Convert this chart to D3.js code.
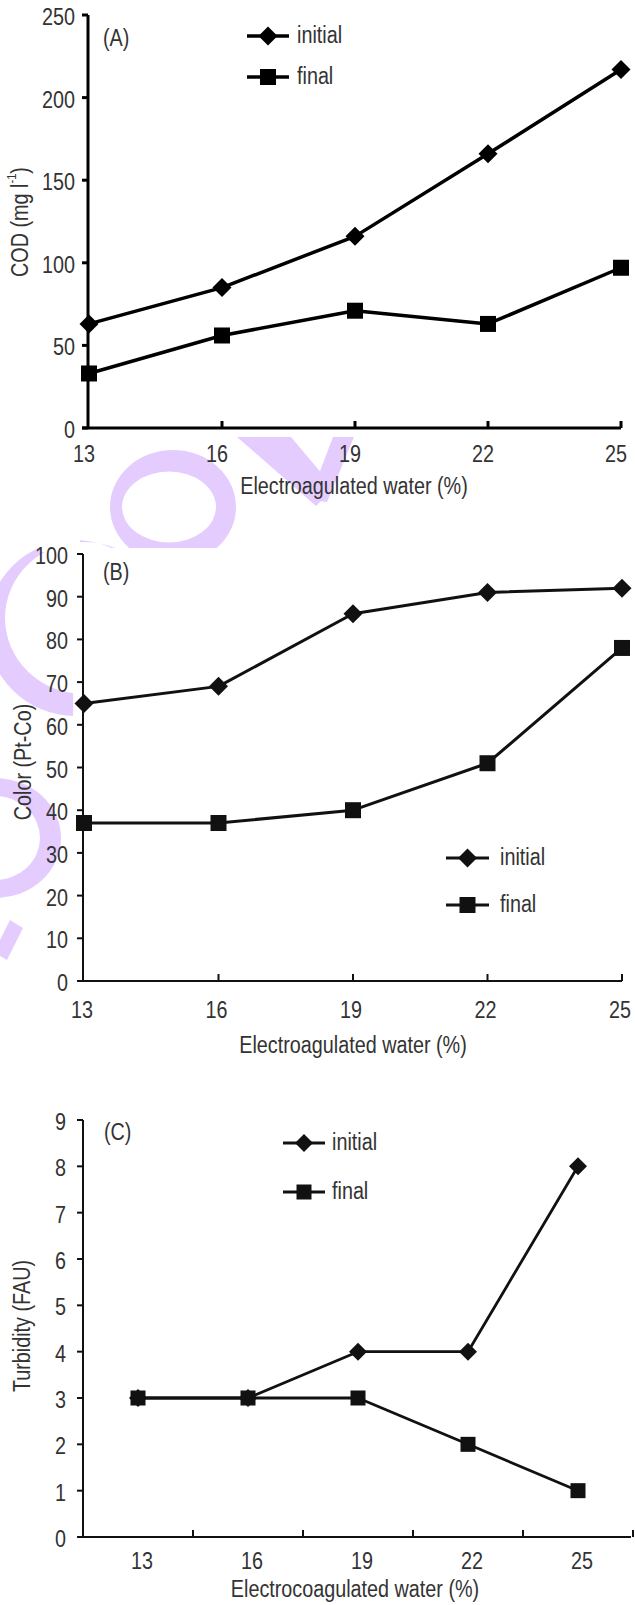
<!DOCTYPE html>
<html>
<head>
<meta charset="utf-8">
<script src="https://cdn.jsdelivr.net/npm/d3@7"></script>
<style>
  html, body { margin: 0; padding: 0; background: #fff; }
  svg { display: block; }
  text { font-family: "Liberation Sans", Arial, sans-serif; fill: #333; }
</style>
</head>
<body>
<svg id="chart" width="635" height="1605"></svg>
<script>
// Electrocoagulated water dosage (%) on the x axis of every panel
const waterLevels = [13, 16, 19, 22, 25];

// (A) COD, mg l-1
const codInitial = [63, 85, 116, 166, 217];
const codFinal   = [33, 56, 71, 63, 97];
const codTicks   = [0, 50, 100, 150, 200, 250];

// (B) Color, Pt-Co
const colorInitial = [65, 69, 86, 91, 92];
const colorFinal   = [37, 37, 40, 51, 78];
const colorTicks   = [0, 10, 20, 30, 40, 50, 60, 70, 80, 90, 100];

// (C) Turbidity, FAU
const turbInitial = [3, 3, 4, 4, 8];
const turbFinal   = [3, 3, 3, 2, 1];
const turbTicks   = [0, 1, 2, 3, 4, 5, 6, 7, 8, 9];

const seriesNames = ["initial", "final"];

const svg = d3.select("#chart");
const FS = 23;     // font size
const SX = 0.86;   // horizontal squeeze for a condensed look

// condensed text helper
function label(g, x, y, str, anchor, rotate) {
  const t = g.append("text")
    .attr("transform", `translate(${x},${y})${rotate ? " rotate(-90)" : ""} scale(${SX},1)`)
    .attr("text-anchor", anchor || "start")
    .attr("dominant-baseline", "middle")
    .attr("font-size", FS);
  if (str !== null) t.text(str);
  return t;
}

// ---- light violet background stamp, visible only in the margins ----
const defs = svg.append("defs");
const clip = defs.append("clipPath").attr("id", "stampClip");
clip.append("rect").attr("x", 0).attr("y", 437).attr("width", 635).attr("height", 111);
clip.append("rect").attr("x", 0).attr("y", 548).attr("width", 73).attr("height", 440);

const stamp = svg.append("g").attr("clip-path", "url(#stampClip)").attr("fill", "#e4ccff");
function ellipsePath(cx, cy, rx, ry) {
  return `M${cx - rx},${cy}a${rx},${ry} 0 1,0 ${2 * rx},0a${rx},${ry} 0 1,0 ${-2 * rx},0Z`;
}
// ring letter
stamp.append("path").attr("fill-rule", "evenodd")
  .attr("d", ellipsePath(173, 507, 63, 57) + ellipsePath(169, 507, 47, 35.5));
// v-shaped letter
stamp.append("path").attr("d", "M237,437L291,437L334,488L316,506Z");
stamp.append("path").attr("d", "M333,437L354,437L327,502L309,500Z");
// large crescent on the left
stamp.append("path").attr("fill-rule", "evenodd")
  .attr("d", ellipsePath(75, 628, 88, 88) + ellipsePath(84, 618, 79, 76));
stamp.append("rect").attr("x", 40).attr("y", 530).attr("width", 40).attr("height", 22).attr("fill", "#fff");
// lower crescent
stamp.append("path").attr("fill-rule", "evenodd")
  .attr("d", ellipsePath(-5, 838, 66, 60) + ellipsePath(-5, 838, 45, 42));
// diagonal stroke
stamp.append("path").attr("d", "M10,920L23,928L7,960L-6,952Z");

// ---- marker symbols ----
function diamond(g, x, y, r, color) {
  g.append("path").attr("d", `M${x},${y - r}L${x + r},${y}L${x},${y + r}L${x - r},${y}Z`).attr("fill", color);
}
function square(g, x, y, s, color) {
  g.append("rect").attr("x", x - s / 2).attr("y", y - s / 2).attr("width", s).attr("height", s).attr("fill", color);
}

function drawPanel(cfg) {
  const g = svg.append("g");
  const x = cfg.x;
  const y = cfg.y;
  const ink = cfg.ink;
  const y0 = y(0);
  const yTop = y(cfg.yTicks[cfg.yTicks.length - 1]);

  // y axis with outward ticks
  g.append("line").attr("x1", cfg.axisX).attr("x2", cfg.axisX).attr("y1", yTop).attr("y2", y0)
    .attr("stroke", ink).attr("stroke-width", cfg.axisW);
  cfg.yTicks.forEach(v => {
    g.append("line").attr("x1", cfg.axisX - 6).attr("x2", cfg.axisX).attr("y1", y(v)).attr("y2", y(v))
      .attr("stroke", ink).attr("stroke-width", cfg.axisW);
    label(g, cfg.axisX - cfg.labelGap, y(v) + 4, v, "end");
  });

  // x axis with inward ticks
  g.append("line").attr("x1", cfg.axisX - 6).attr("x2", cfg.xEnd).attr("y1", y0).attr("y2", y0)
    .attr("stroke", ink).attr("stroke-width", cfg.axisW);
  cfg.xTickPos.forEach(px => {
    g.append("line").attr("x1", px).attr("x2", px).attr("y1", y0 - 7).attr("y2", y0)
      .attr("stroke", ink).attr("stroke-width", cfg.axisW);
  });
  waterLevels.forEach(v => label(g, cfg.xLabel(v), y0 + cfg.xLabelDy, v, "middle"));

  // axis titles
  label(g, cfg.titleX, cfg.xTitleY, cfg.xTitle, "middle");
  cfg.yTitle(label(g, cfg.yTitlePos[0], cfg.yTitlePos[1], null, "middle", true));

  // panel letter
  label(g, cfg.letterPos[0], cfg.letterPos[1], cfg.letter);

  // series lines and markers
  const line = d3.line().x(d => d[0]).y(d => d[1]);
  [cfg.initial, cfg.final].forEach((vals, si) => {
    const pts = vals.map((v, i) => [x(waterLevels[i]), y(v)]);
    g.append("path").attr("d", line(pts)).attr("fill", "none")
      .attr("stroke", ink).attr("stroke-width", cfg.lineW).attr("stroke-linejoin", "round");
    pts.forEach(p => {
      if (si === 0) diamond(g, p[0], p[1], cfg.dR, ink);
      else square(g, p[0], p[1], cfg.sq, ink);
    });
  });

  // legend
  seriesNames.forEach((name, si) => {
    const ly = cfg.legend.y[si];
    g.append("line").attr("x1", cfg.legend.x0).attr("x2", cfg.legend.x1).attr("y1", ly).attr("y2", ly)
      .attr("stroke", ink).attr("stroke-width", cfg.lineW);
    const mx = (cfg.legend.x0 + cfg.legend.x1) / 2;
    if (si === 0) diamond(g, mx, ly, cfg.dR, ink);
    else square(g, mx, ly, cfg.sq, ink);
    label(g, cfg.legend.tx, ly + 1, name);
  });
}

// ---------- (A) ----------
const xA = d3.scaleLinear().domain([13, 25]).range([89, 621]);
const yA = d3.scaleLinear().domain([0, 250]).range([428, 15]);
drawPanel({
  x: xA, y: yA, ink: "#000", axisX: 88, axisW: 3, lineW: 3.5, dR: 9.5, sq: 16,
  yTicks: codTicks, labelGap: 13,
  xEnd: 621, xTickPos: waterLevels.slice(1).map(xA), xLabel: v => xA(v) - 5, xLabelDy: 28,
  initial: codInitial, final: codFinal,
  xTitle: "Electroagulated water (%)", titleX: 354, xTitleY: 488,
  yTitle: t => { t.append("tspan").text("COD (mg l");
                 t.append("tspan").attr("font-size", 13).attr("dy", -9).text("-1");
                 t.append("tspan").attr("dy", 9).text(")"); },
  yTitlePos: [22, 222],
  letter: "(A)", letterPos: [103, 40],
  legend: { x0: 247, x1: 289, tx: 297, y: [36, 77] }
});

// ---------- (B) ----------
const xB = d3.scaleLinear().domain([13, 25]).range([84, 622]);
const yB = d3.scaleLinear().domain([0, 100]).range([981, 554]);
drawPanel({
  x: xB, y: yB, ink: "#111", axisX: 83, axisW: 2, lineW: 3, dR: 9.5, sq: 16,
  yTicks: colorTicks, labelGap: 15,
  xEnd: 622, xTickPos: waterLevels.slice(1).map(xB), xLabel: v => xB(v) - 2, xLabelDy: 31,
  initial: colorInitial, final: colorFinal,
  xTitle: "Electroagulated water (%)", titleX: 353, xTitleY: 1047,
  yTitle: t => t.text("Color (Pt-Co)"),
  yTitlePos: [25, 762],
  letter: "(B)", letterPos: [103, 574],
  legend: { x0: 446, x1: 489, tx: 500, y: [858, 905] }
});

// ---------- (C) ----------
const xC = d3.scaleBand().domain(waterLevels).range([83, 633]);
const xCc = v => xC(v) + xC.bandwidth() / 2;
const yC = d3.scaleLinear().domain([0, 9]).range([1537, 1120]);
drawPanel({
  x: xCc, y: yC, ink: "#111", axisX: 83, axisW: 2, lineW: 2.8, dR: 9, sq: 15,
  yTicks: turbTicks, labelGap: 17,
  xEnd: 631, xTickPos: waterLevels.map(v => xC(v) + xC.bandwidth()), xLabel: v => xCc(v) + 4, xLabelDy: 26,
  initial: turbInitial, final: turbFinal,
  xTitle: "Electrocoagulated water (%)", titleX: 355, xTitleY: 1591,
  yTitle: t => t.text("Turbidity (FAU)"),
  yTitlePos: [24, 1326],
  letter: "(C)", letterPos: [104, 1134],
  legend: { x0: 283, x1: 325, tx: 332, y: [1143, 1192] }
});
</script>
</body>
</html>
